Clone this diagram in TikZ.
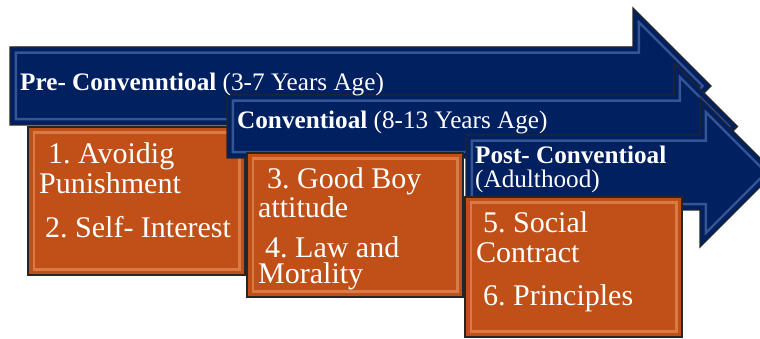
\documentclass[tikz,border=0pt]{standalone}
\usepackage{fontspec}
\setmainfont{Liberation Serif}
\frenchspacing
\definecolor{navy}{RGB}{0,32,96}
\definecolor{navyhi}{RGB}{120,150,210}
\definecolor{rust}{RGB}{192,80,24}
\definecolor{rusthi}{RGB}{250,175,125}
% outlines of the three stage arrows and the three boxes
\def\arrowA{(10,47) -- (633,47) -- (633,8) -- (711,86) -- (633,164) -- (633,125) -- (10,125) -- cycle}
\def\arrowB{(227,95) -- (674,95) -- (674,63) -- (737.5,126.5) -- (674,190) -- (674,158) -- (227,158) -- cycle}
\def\arrowC{(466,135) -- (700,135) -- (700,98) -- (774.5,172.5) -- (700,247) -- (700,210) -- (466,210) -- cycle}
\def\boxA{(28,127) rectangle (245,275)}
\def\boxB{(247,153) rectangle (463,297)}
\def\boxC{(465,197) rectangle (682,337)}
\begin{document}
\begin{tikzpicture}[x=1pt, y=-1pt, line join=miter,
    headtxt/.style={anchor=north west, inner sep=0pt, text=white, align=left,
      font=\fontsize{25.2}{24}\selectfont},
    boxtxt/.style={anchor=north west, inner sep=0pt, text=white, align=left,
      font=\fontsize{30}{30}\selectfont}]
  \useasboundingbox (0,0) rectangle (760,339);
  \clip (0,0) rectangle (760,339);
  % shapes, back to front, with a soft bevel line inside
  \foreach \shp/\col/\hi in {\arrowA/navy/navyhi, \boxA/rust/rusthi,
      \arrowB/navy/navyhi, \boxB/rust/rusthi,
      \arrowC/navy/navyhi, \boxC/rust/rusthi} {
    \fill[\col] \shp;
    \begin{scope}
      \clip \shp;
      \draw[\hi, opacity=0.45, line width=14pt] \shp;
      \draw[\col, line width=9pt] \shp;
    \end{scope}
    \draw[black!85, line width=1.3pt] \shp;
  }
  % stage titles (first line top = baseline - 19)
  \node[headtxt] (pre) at (20,71) {\rule{0pt}{19pt}\textbf{Pre- Convenntioal} (3-7 Years Age)};
  \node[headtxt] (conv) at (237,109) {\rule{0pt}{19pt}\textbf{Conventioal} (8-13 Years Age)};
  \node[headtxt] (post) at (475,144) {\rule{0pt}{19pt}\textbf{Post- Conventioal}\\(Adulthood)};
  % box texts (first line top = baseline - 22)
  \node[boxtxt] (preitems) at (39,141)
    {\rule{0pt}{22pt}\hspace*{9pt}1. Avoidig\\Punishment\\[14pt]\hspace*{6pt}2. Self- Interest};
  \node[boxtxt] (convitems) at (258,166)
    {\rule{0pt}{22pt}\hspace*{9pt}3. Good Boy\\[-1pt]attitude\\[10pt]\hspace*{7pt}4. Law and\\[-4pt]Morality};
  \node[boxtxt] (postitems) at (476,210)
    {\rule{0pt}{22pt}\hspace*{7pt}5. Social\\Contract\\[13pt]\hspace*{7pt}6. Principles};
\end{tikzpicture}
\end{document}
